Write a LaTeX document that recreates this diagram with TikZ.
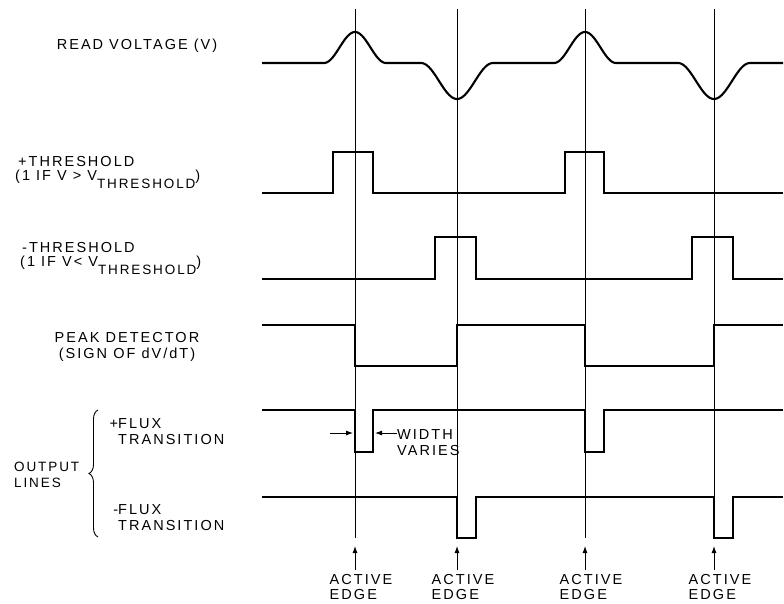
\documentclass[tikz,border=0pt]{standalone}
\usepackage{fontspec}
\newfontfamily\lblfont[LetterSpace=14]{Liberation Sans}
\usetikzlibrary{positioning}
\usetikzlibrary{arrows.meta}
\usetikzlibrary{decorations.pathreplacing}

\newcommand{\vthr}{V\raisebox{-8pt}{\fontsize{13.5}{14}\selectfont THRESHOLD})}

\begin{document}
\begin{tikzpicture}[
  x=1pt, y=-1pt,
  lbl/.style={font=\lblfont\fontsize{14.5}{16}\selectfont, inner sep=0pt},
  wave/.style={line width=2.1pt, line join=miter},
  edgeline/.style={line width=0.8pt},
  arr/.style={-{Latex[length=7pt,width=5pt]}, line width=0.9pt},
  brc/.style={decorate, decoration={brace, amplitude=9pt}, line width=0.9pt}
]
\useasboundingbox[fill=white] (0,0) rectangle (784,604);

% Signal names
\node[lbl] (readv) at (137,46) {READ VOLTAGE (V)};
\node[lbl, anchor=north west, align=left] (pthr) at (15,156)
  {\hspace{3pt}+THRESHOLD\\[-2pt](1 IF V > \vthr};
\node[lbl, anchor=north west, align=left] (nthr) at (20,242)
  {\hspace{2pt}-THRESHOLD\\[-2pt](1 IF V< \vthr};
\node[lbl, align=center] (peak) at (127,347) {PEAK DETECTOR\\(SIGN OF dV/dT)};
\node[lbl, font=\lblfont\fontsize{13.5}{16}\selectfont, anchor=west, align=left] (outl) at (14,475) {OUTPUT\\LINES};
\node[lbl, anchor=north west, align=left] (pflux) at (118,418) {\llap{+}FLUX\\TRANSITION};
\node[lbl, anchor=north west, align=left] (nflux) at (118,504) {\llap{-}FLUX\\TRANSITION};
\draw[brc] (98,537) -- (98,410);

% Active edges
\foreach \ex/\nm in {355/a, 457/b, 585/c, 714/d} {
  \draw[edgeline] (\ex,9) -- (\ex,538);
  \coordinate (tip\nm) at (\ex,546);
  \node[lbl, anchor=north, align=left] (act\nm) at (\ex+6,574) {ACTIVE\\[-1pt]EDGE};
  \draw[arr] (act\nm.north -| tip\nm) ++(0,-4) -- (tip\nm);
}

% Read voltage
\draw[wave] (262,63) -- (324,63)
  -- plot[domain=-31:31, samples=50] (\x+355,{63-31*(1+cos(180*\x/31))/2})
  -- (421,63)
  -- plot[domain=-36:36, samples=50] (\x+457,{63+36*(1+cos(180*\x/36))/2})
  -- (554,63)
  -- plot[domain=-31:31, samples=50] (\x+585,{63-31*(1+cos(180*\x/31))/2})
  -- (678,63)
  -- plot[domain=-36:36, samples=50] (\x+714,{63+36*(1+cos(180*\x/36))/2})
  -- (783,63);

% + threshold
\draw[wave] (262,193) -- (333,193) -- (333,152) -- (373,152) -- (373,193)
  -- (565,193) -- (565,152) -- (604,152) -- (604,193) -- (783,193);

% - threshold
\draw[wave] (262,279) -- (435,279) -- (435,237) -- (476,237) -- (476,279)
  -- (692,279) -- (692,237) -- (733,237) -- (733,279) -- (783,279);

% Peak detector
\draw[wave] (262,325) -- (355,325) -- (355,366) -- (457,366) -- (457,325)
  -- (585,325) -- (585,366) -- (714,366) -- (714,325) -- (783,325);

% + flux transition
\draw[wave] (262,410) -- (355,410) -- (355,452) -- (373,452) -- (373,410)
  -- (585,410) -- (585,452) -- (604,452) -- (604,410) -- (783,410);

% - flux transition
\draw[wave] (262,497) -- (457,497) -- (457,538) -- (476,538) -- (476,497)
  -- (714,497) -- (714,538) -- (733,538) -- (733,497) -- (783,497);

% Width varies
\node[lbl, anchor=west, align=left] (wvar) at (397,443) {WIDTH\\VARIES};
\coordinate (wl) at (353,433);
\coordinate (wr) at (375,433);
\draw[arr] (330,433) -- (wl);
\draw[arr] (wvar.west |- wr) -- (wr);

\end{tikzpicture}
\end{document}
